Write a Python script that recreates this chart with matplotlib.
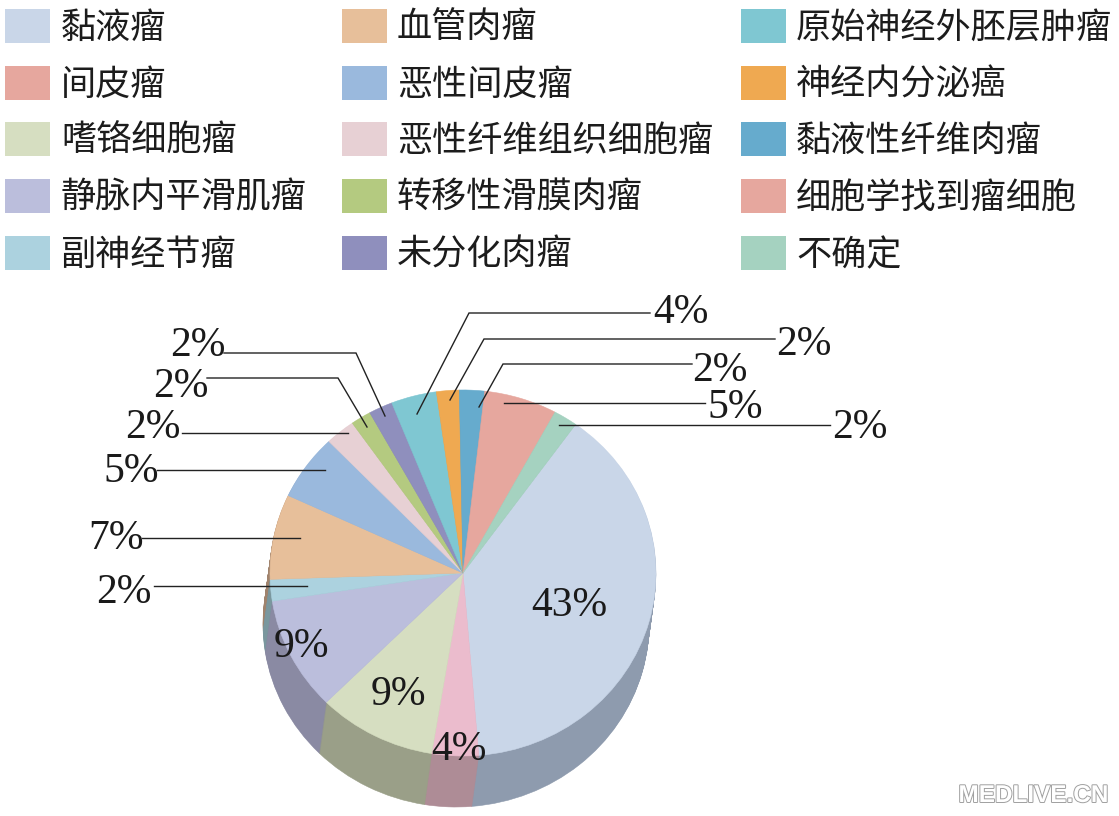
import matplotlib
matplotlib.use("Agg")
import matplotlib.pyplot as plt
import matplotlib.patheffects as pe
from matplotlib.patches import Rectangle

plt.rcParams['font.family'] = ['Noto Sans CJK SC', 'DejaVu Sans']

W, H = 1119, 816

categories = ['黏液瘤', '间皮瘤', '嗜铬细胞瘤', '静脉内平滑肌瘤', '副神经节瘤',
              '血管肉瘤', '恶性间皮瘤', '恶性纤维组织细胞瘤', '转移性滑膜肉瘤', '未分化肉瘤',
              '原始神经外胚层肿瘤', '神经内分泌癌', '黏液性纤维肉瘤', '细胞学找到瘤细胞', '不确定']
# percentages printed on the chart
printed = ['43%', '4%', '9%', '9%', '2%', '7%', '5%', '2%', '2%', '2%', '4%', '2%', '2%', '5%', '2%']
# slice shares as actually drawn in the picture
drawn_shares = [38.7, 3.9, 9.9, 10.0, 1.9, 7.5, 5.8, 2.5, 1.7, 2.0, 3.8, 1.9, 2.1, 6.1, 2.0]
slice_colors = ['#C9D6E8', '#EBBCCD', '#D6DEC1', '#BBBEDC', '#ACD2DF',
                '#E7BF9A', '#9AB9DD', '#E7D0D4', '#B4CA80', '#8F8FBD',
                '#7FC7D2', '#EFA951', '#66ABCD', '#E6A79E', '#A5D2C0']
side_colors = ['#8E9BAE', '#AE8C96', '#9A9F88', '#8A8AA3', '#7A979E',
               '#A0836D', '#7F90A8', '#A0909A', '#83925F', '#66668A',
               '#5C919A', '#AD7B3B', '#4A7D96', '#A87A73', '#78998C']
legend_colors = list(slice_colors)
legend_colors[1] = '#E6A79E'

# ---------- layout ----------
CX, CY, RX, RY = 463, 573, 193, 183
DEPTH_X, DEPTH_Y = -7, 51
START = 54.3

fig = plt.figure(figsize=(W / 100, H / 100), dpi=100, facecolor='white')

# pie axes: one data unit = RX px horizontally and RY px vertically
ax = fig.add_axes([0, 0, 1, 1])
for k in range(DEPTH_Y, 0, -1):
    cx = DEPTH_X * k / DEPTH_Y / RX
    cy = -k / RY
    wedges, _ = ax.pie(drawn_shares, colors=side_colors, startangle=START, counterclock=False,
                       center=(cx, cy), radius=1, normalize=True,
                       wedgeprops=dict(linewidth=0.4, edgecolor='none'))
    for w, c in zip(wedges, side_colors):
        w.set_edgecolor(c)
wedges, _ = ax.pie(drawn_shares, colors=slice_colors, startangle=START, counterclock=False,
                   center=(0, 0), radius=1, normalize=True,
                   wedgeprops=dict(linewidth=0.4))
for w, c in zip(wedges, slice_colors):
    w.set_edgecolor(c)
ax.set_aspect('auto')
ax.set_xlim(-CX / RX, (W - CX) / RX)
ax.set_ylim((CY - H) / RY, CY / RY)
ax.axis('off')

# overlay in pixel coordinates for legend, leaders and labels
ov = fig.add_axes([0, 0, 1, 1], facecolor='none')
ov.set_xlim(0, W)
ov.set_ylim(H, 0)
ov.axis('off')

# legend
col_swatch = [5, 342, 741]
col_text = [61, 397, 796]
row_y = [26, 83, 139, 196, 253]
for i, (name, col) in enumerate(zip(categories, legend_colors)):
    c, r = i // 5, i % 5
    ov.add_patch(Rectangle((col_swatch[c], row_y[r] - 17), 45, 34, facecolor=col, edgecolor='none'))
    ov.text(col_text[c], row_y[r] - 2, name, fontsize=25.3, color='#1c1c1c', ha='left', va='center_baseline')

# leader lines
leaders = [
    [(224, 353), (356, 353), (385, 416)],
    [(207, 378), (338, 378), (367, 427)],
    [(182, 433), (348, 433)],
    [(157, 470), (325, 470)],
    [(142, 538), (300, 538)],
    [(154, 586), (307, 586)],
    [(417, 414), (469, 313), (650, 313)],
    [(450, 400), (484, 339), (775, 339)],
    [(479, 407), (503, 364), (692, 364)],
    [(504, 403), (705, 403)],
    [(559, 425), (830, 425)],
]
for pts in leaders:
    ov.plot([p[0] for p in pts], [p[1] for p in pts], color='#222222', lw=1.0, solid_joinstyle='miter')

# printed percentage labels: left edge, vertical centre (same order as the slices)
label_pos = [(531, 601), (431, 745), (371, 690), (274, 642), (96, 588),
             (88, 534), (103, 467), (125, 423), (153, 382), (170, 341),
             (653, 308), (776, 340), (692, 366), (707, 403), (832, 423)]
for txt, (x, y) in zip(printed, label_pos):
    ov.text(x, y, txt, fontsize=30, family='Liberation Serif', color='#1a1a1a',
            ha='left', va='center_baseline')

# watermark
ov.text(1108, 793, 'MEDLIVE.CN', fontsize=17.5, family='Liberation Sans', fontweight='bold',
        color='white', ha='right', va='center_baseline',
        path_effects=[pe.withStroke(linewidth=1.4, foreground='#a0a0a0')])

fig.savefig('out.png', dpi=100, facecolor='white')
